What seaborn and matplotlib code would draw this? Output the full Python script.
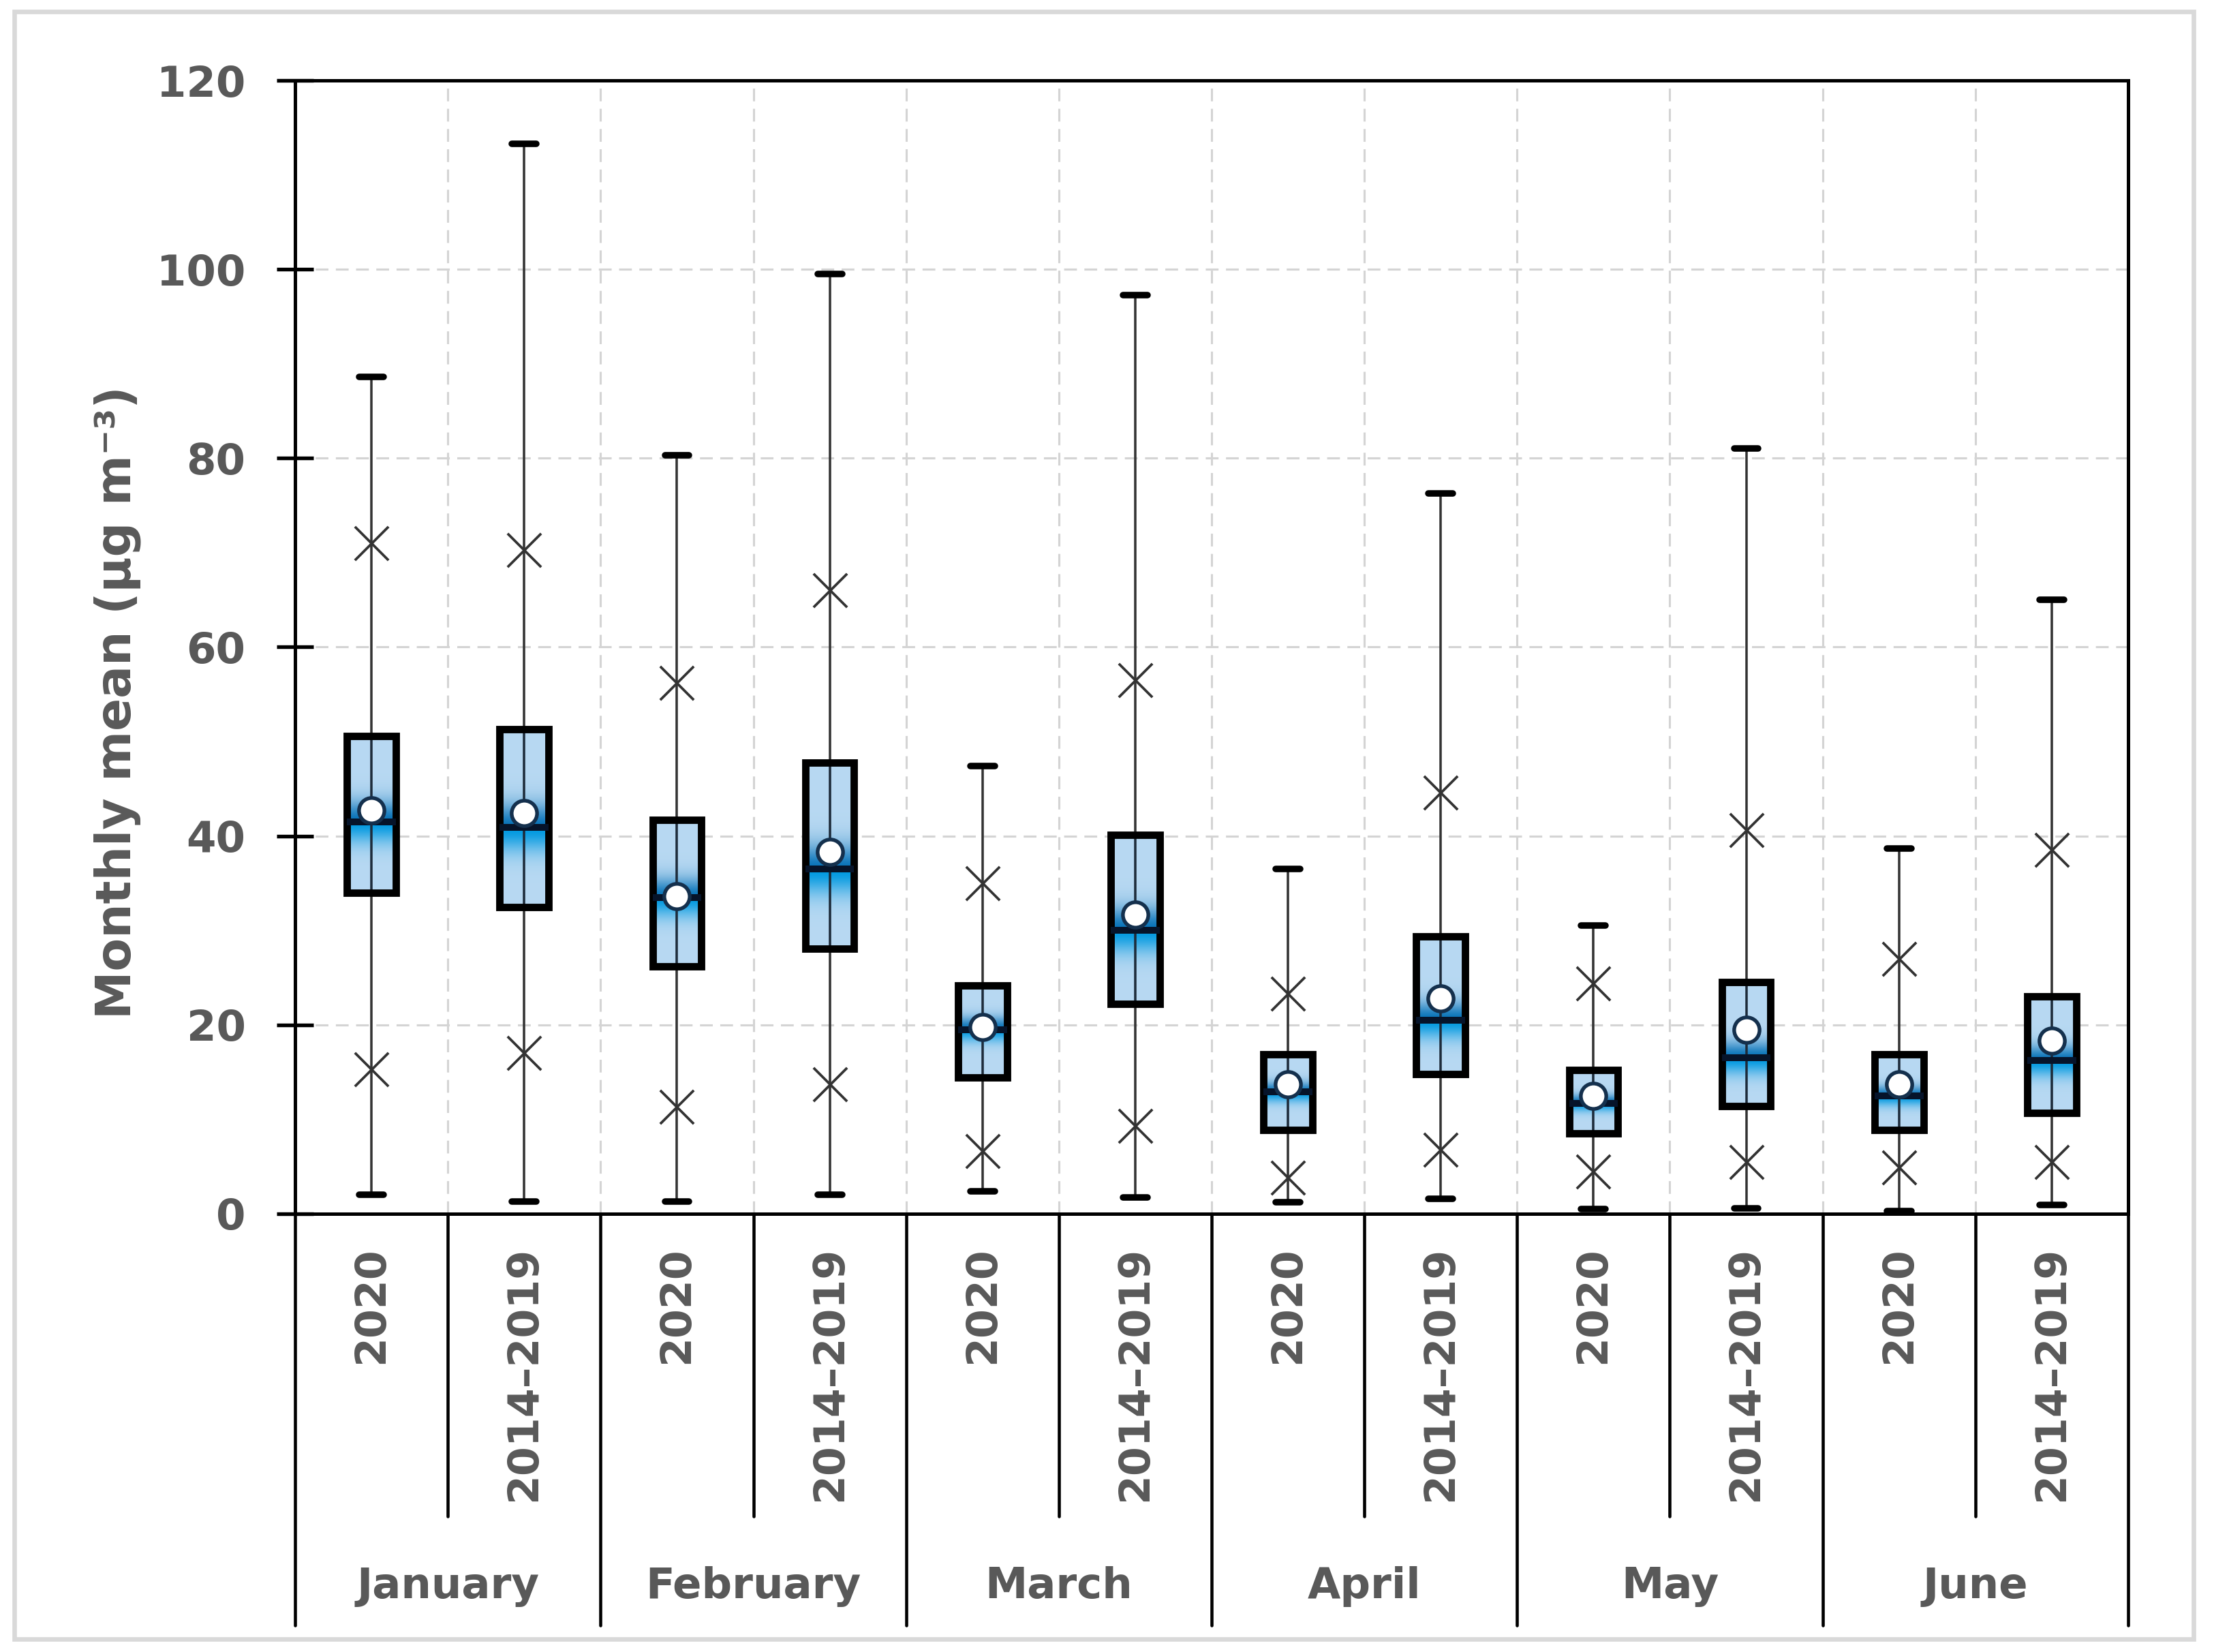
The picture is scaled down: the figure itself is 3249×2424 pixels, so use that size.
import numpy as np
import pandas as pd
import matplotlib.pyplot as plt
import matplotlib.transforms as mtransforms
from matplotlib.patches import Rectangle
import seaborn as sns

months = ["January", "February", "March", "April", "May", "June"]
periods = ["2020", "2014–2019"]

# one entry per box: Jan 2020, Jan 2014-2019, Feb 2020, ...
v_min = [2.0, 1.3, 1.3, 2.0, 2.4, 1.7, 1.2, 1.6, 0.5, 0.6, 0.3, 0.9]
v_p05 = [15.3, 17.0, 11.3, 13.7, 6.6, 9.3, 3.8, 6.8, 4.5, 5.5, 4.9, 5.5]
v_q1 = [34.0, 32.5, 26.2, 28.1, 14.4, 22.2, 8.9, 14.8, 8.5, 11.4, 8.9, 10.7]
v_median = [41.5, 40.9, 33.5, 36.5, 19.5, 30.0, 12.9, 20.5, 11.7, 16.5, 12.5, 16.2]
v_q3 = [50.6, 51.3, 41.7, 47.8, 24.2, 40.1, 16.9, 29.4, 15.2, 24.5, 16.9, 23.0]
v_p95 = [71.0, 70.3, 56.2, 66.0, 35.0, 56.5, 23.3, 44.6, 24.4, 40.6, 27.0, 38.5]
v_max = [88.6, 113.3, 80.3, 99.5, 47.4, 97.3, 36.5, 76.3, 30.5, 81.0, 38.7, 65.0]
v_mean = [42.7, 42.4, 33.6, 38.3, 19.8, 31.7, 13.7, 22.8, 12.5, 19.5, 13.7, 18.3]

TXT = "#595959"

sns.set_style("white")
plt.rcParams["font.family"] = ["DejaVu Sans"]
plt.rcParams["font.weight"] = "bold"

n = len(v_min)
slots = np.arange(n)

# five points per box give exact quartiles and min/max with whis=inf
rows = []
for i in range(n):
    for v in (v_min[i], v_q1[i], v_median[i], v_q3[i], v_max[i]):
        rows.append({"slot": i, "value": v})
box_df = pd.DataFrame(rows)

pts = pd.DataFrame({"slot": slots, "p05": v_p05, "p95": v_p95, "mean": v_mean})

fig = plt.figure(figsize=(3249 / 300, 2424 / 300), dpi=300)
ax = fig.add_axes([0.1333, 0.2653, 0.9612 - 0.1333, 0.9513 - 0.2653])

sns.boxplot(data=box_df, x="slot", y="value", order=list(slots), whis=np.inf,
            width=0.32, color="#b3d9f2", linecolor="black", linewidth=2.6,
            showfliers=False, ax=ax,
            whiskerprops={"color": "#333333", "linewidth": 0.85},
            capprops={"color": "black", "linewidth": 2.3},
            medianprops={"color": "#06142a", "linewidth": 2.4, "zorder": 2.3})

# gradient fill, darkest around the median (navy above, bright blue below)
light = np.array([0.72, 0.85, 0.95])
upper = np.array([0.03, 0.45, 0.72])
lower = np.array([0.0, 0.60, 0.88])
for patch, lo, med, hi in zip(ax.patches, v_q1, v_median, v_q3):
    ext = patch.get_path().get_extents()
    ys = np.linspace(lo, hi, 300)
    d = (ys - med) / (hi - lo)
    w = np.exp(-(d / 0.13) ** 2)
    strong = np.where(d[:, None] > 0, upper[None, :], lower[None, :])
    img = light[None, :] * (1 - w[:, None]) + strong * w[:, None]
    ax.imshow(img[:, None, :], extent=[ext.x0, ext.x1, lo, hi], origin="lower",
              aspect="auto", interpolation="bilinear", zorder=1.9)
    patch.set_facecolor("none")
    patch.set_zorder(2.2)

# whisker line continues through the box
ax.vlines(slots, v_q1, v_q3, color="#1d2b3a", linewidth=0.85, zorder=2.1)

sns.scatterplot(data=pts, x="slot", y="p95", marker="x", s=140, color="#333333",
                linewidth=0.9, zorder=3, ax=ax)
sns.scatterplot(data=pts, x="slot", y="p05", marker="x", s=140, color="#333333",
                linewidth=0.9, zorder=3, ax=ax)
sns.scatterplot(data=pts, x="slot", y="mean", marker="o", s=80, color="white",
                edgecolor="#14304d", linewidth=1.3, zorder=4, ax=ax)

ax.set_xlim(-0.5, n - 0.5)
ax.set_ylim(0, 120)
ax.set_xlabel("")
ax.set_ylabel("")

ax.set_yticks(range(0, 121, 20))
ax.tick_params(axis="y", direction="inout", length=12.8, width=1.3, pad=11,
               color="black", labelcolor=TXT, labelsize=15, left=True)
ax.set_xticks(slots)
ax.set_xticklabels(periods * len(months), rotation=90, color=TXT, fontsize=14.8,
                   fontweight="bold")
ax.tick_params(axis="x", length=0, pad=11.5)
ax.set_xticks(np.arange(-0.5, n), minor=True)
ax.tick_params(axis="x", which="minor", length=0)
for lab in ax.get_yticklabels():
    lab.set_fontweight("bold")

ax.grid(axis="y", which="major", color="#d4d4d4", linestyle=(0, (6, 3.5)), linewidth=0.75)
ax.grid(axis="x", which="minor", color="#d4d4d4", linestyle=(0, (6, 3.5)), linewidth=0.75)
ax.grid(axis="x", which="major", visible=False)
ax.set_axisbelow(True)

for side in ["left", "right", "top", "bottom"]:
    ax.spines[side].set_visible(True)
    ax.spines[side].set_color("black")
    ax.spines[side].set_linewidth(1.2)

# grouped category axis below the plot
trans = mtransforms.blended_transform_factory(ax.transData, ax.transAxes)
for k in range(n + 1):
    x = k - 0.5
    y_end = -0.363 if k % 2 == 0 else -0.267
    ax.plot([x, x], [0, y_end], color="black", linewidth=1.1, transform=trans,
            clip_on=False)
for m, name in enumerate(months):
    ax.text(2 * m + 0.5, -0.329, name, transform=trans, ha="center", va="center",
            fontsize=15, fontweight="bold", color=TXT)

fig.text(0.053, 0.575, "Monthly mean (µg m⁻³)", rotation=90, ha="center",
         va="center", fontsize=17, fontweight="bold", color=TXT)

fig.patches.append(Rectangle((0.0065, 0.008), 0.9843, 0.985, transform=fig.transFigure,
                             fill=False, edgecolor="#d9d9d9", linewidth=1.6))

fig.savefig("out.png", dpi=300, facecolor="white")
